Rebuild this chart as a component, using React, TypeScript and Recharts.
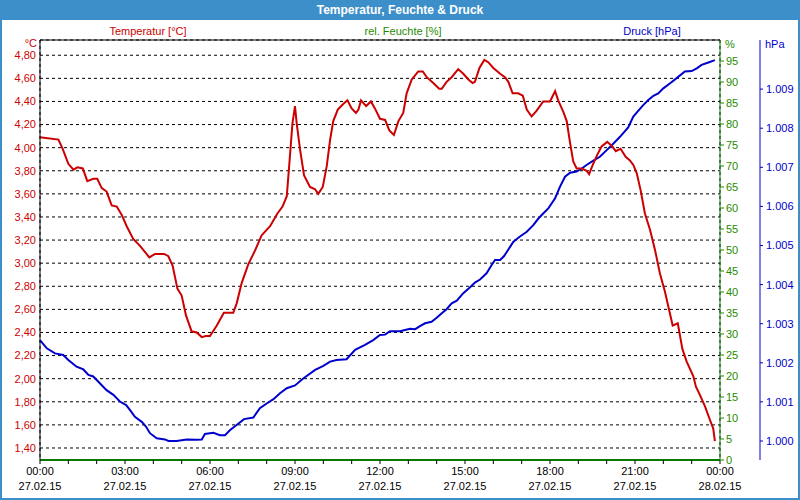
import React from 'react';
import { LineChart, Line, XAxis, YAxis, CartesianGrid, ReferenceLine } from 'recharts';

// Temperature (hours since 27.02.15 00:00, °C)
const tempHours = [
  0, 0.65, 0.8, 1.0, 1.18, 1.32, 1.51, 1.67, 1.88, 2.02, 2.18, 2.35, 2.53, 2.71, 2.88,
  3.06, 3.29, 3.53, 3.86, 4.06, 4.38, 4.53, 4.68, 4.85, 5.0, 5.15, 5.35, 5.53, 5.71, 5.85,
  6.0, 6.24, 6.49, 6.82, 6.94, 7.12, 7.35, 7.59, 7.82, 8.12, 8.38, 8.56, 8.71, 8.8, 8.91,
  9.0, 9.06, 9.18, 9.32, 9.53, 9.71, 9.82, 9.98, 10.12, 10.24, 10.35, 10.51, 10.71, 10.85,
  11.0, 11.15, 11.24, 11.33, 11.51, 11.68, 11.82, 12.0, 12.18, 12.33, 12.49, 12.65, 12.82,
  12.94, 13.12, 13.35, 13.51, 13.65, 13.88, 14.09, 14.18, 14.35, 14.53, 14.76, 14.94, 15.12,
  15.27, 15.35, 15.51, 15.68, 15.82, 16.0, 16.24, 16.41, 16.53, 16.68, 16.88, 17.04, 17.18,
  17.35, 17.53, 17.76, 18.0, 18.18, 18.29, 18.47, 18.59, 18.71, 18.82, 18.94, 19.12, 19.29,
  19.38, 19.49, 19.67, 19.82, 20.02, 20.2, 20.32, 20.49, 20.67, 20.82, 20.94, 21.06, 21.2,
  21.35, 21.53, 21.71, 21.88, 22.06, 22.18, 22.33, 22.51, 22.67, 22.82, 23.06, 23.15, 23.29,
  23.47, 23.65, 23.76, 23.82,
];
const tempValues = [
  4.09, 4.07, 3.99, 3.86, 3.81, 3.83, 3.82, 3.71, 3.73, 3.73, 3.65, 3.62, 3.5, 3.49, 3.42,
  3.32, 3.21, 3.15, 3.05, 3.08, 3.08, 3.06, 2.98, 2.78, 2.72, 2.55, 2.41, 2.4, 2.36, 2.37,
  2.37, 2.46, 2.57, 2.57, 2.65, 2.83, 2.99, 3.11, 3.24, 3.32, 3.43, 3.49, 3.58, 3.86, 4.21,
  4.36, 4.21, 3.98, 3.76, 3.66, 3.64, 3.6, 3.66, 3.84, 4.07, 4.23, 4.33, 4.38, 4.41,
  4.34, 4.3, 4.33, 4.41, 4.36, 4.4, 4.34, 4.25, 4.24, 4.15, 4.11, 4.23, 4.3,
  4.47, 4.59, 4.66, 4.66, 4.61, 4.56, 4.51, 4.51, 4.57, 4.61, 4.68, 4.64, 4.59,
  4.56, 4.57, 4.69, 4.76, 4.74, 4.69, 4.64, 4.61, 4.57, 4.47, 4.47, 4.45, 4.33,
  4.27, 4.32, 4.4, 4.4, 4.49, 4.41, 4.31, 4.23, 4.04, 3.88, 3.82, 3.82, 3.8,
  3.77, 3.84, 3.94, 4.01, 4.05, 4.01, 3.97, 3.99, 3.92, 3.89, 3.85, 3.78, 3.63,
  3.43, 3.29, 3.11, 2.91, 2.75, 2.62, 2.46, 2.48, 2.26, 2.15, 2.02, 1.93, 1.86,
  1.76, 1.64, 1.57, 1.46,
];

// Pressure (hPa)
const pressHours = [
  0, 0.24, 0.53, 0.82, 1.0, 1.29, 1.53, 1.71, 1.88, 2.12, 2.35, 2.59, 2.82, 3.04, 3.18,
  3.35, 3.59, 3.74, 3.88, 4.12, 4.41, 4.53, 4.82, 5.18, 5.53, 5.71, 5.82, 6.12, 6.35, 6.53,
  6.71, 6.94, 7.2, 7.53, 7.76, 8.0, 8.24, 8.47, 8.71, 9.0, 9.29, 9.71, 10.0, 10.24, 10.47,
  10.82, 11.12, 11.47, 11.76, 12.0, 12.18, 12.35, 12.71, 12.88, 13.06, 13.24, 13.41, 13.59,
  13.82, 14.0, 14.18, 14.35, 14.53, 14.71, 14.94, 15.18, 15.35, 15.53, 15.76, 15.94, 16.06,
  16.24, 16.38, 16.53, 16.71, 16.94, 17.18, 17.41, 17.59, 17.76, 17.94, 18.18, 18.35, 18.53,
  18.71, 18.94, 19.12, 19.29, 19.53, 19.76, 20.0, 20.24, 20.47, 20.76, 20.94, 21.12, 21.29,
  21.47, 21.65, 21.82, 22.0, 22.24, 22.47, 22.76, 23.0, 23.18, 23.35, 23.59, 23.82,
];
const pressValues = [
  1002.58, 1002.37, 1002.24, 1002.2, 1002.07, 1001.9, 1001.83, 1001.69, 1001.65, 1001.47,
  1001.3, 1001.18, 1001.01, 1000.92, 1000.79, 1000.62, 1000.49, 1000.37, 1000.2, 1000.07,
  1000.04, 1000.0, 1000.0, 1000.04, 1000.03, 1000.04, 1000.18, 1000.21, 1000.15, 1000.15,
  1000.28, 1000.41, 1000.56, 1000.6, 1000.84, 1000.96, 1001.07, 1001.22, 1001.35, 1001.42,
  1001.6, 1001.82, 1001.92, 1002.03, 1002.07, 1002.09, 1002.33, 1002.46, 1002.58, 1002.71,
  1002.72, 1002.81, 1002.81, 1002.84, 1002.87, 1002.86, 1002.94, 1003.01, 1003.05, 1003.15,
  1003.27, 1003.37, 1003.52, 1003.59, 1003.78, 1003.93, 1004.05, 1004.13, 1004.29, 1004.5,
  1004.63, 1004.63, 1004.73, 1004.9, 1005.1, 1005.23, 1005.35, 1005.52, 1005.69, 1005.82,
  1005.95, 1006.21, 1006.5, 1006.76, 1006.86, 1006.89, 1006.97, 1007.06, 1007.17, 1007.27,
  1007.44, 1007.61, 1007.78, 1008.02, 1008.3, 1008.45, 1008.59, 1008.72, 1008.83, 1008.89,
  1009.02, 1009.15, 1009.28, 1009.45, 1009.46, 1009.53, 1009.62, 1009.68, 1009.74,
];

// axis ticks
const hourTicks = [0, 1, 2, 3, 4, 5, 6, 7, 8, 9, 10, 11, 12, 13, 14, 15, 16, 17, 18, 19, 20, 21, 22, 23, 24];
const majorTicks = [0, 3, 6, 9, 12, 15, 18, 21, 24];
const gridTicks = [3, 6, 9, 12, 15, 18, 21];
const timeLabels = ['00:00', '03:00', '06:00', '09:00', '12:00', '15:00', '18:00', '21:00', '00:00'];
const dateLabels = ['27.02.15', '27.02.15', '27.02.15', '27.02.15', '27.02.15', '27.02.15', '27.02.15', '27.02.15', '28.02.15'];
const tempTicks = [1.4, 1.6, 1.8, 2.0, 2.2, 2.4, 2.6, 2.8, 3.0, 3.2, 3.4, 3.6, 3.8, 4.0, 4.2, 4.4, 4.6, 4.8];
const humTicks = [0, 5, 10, 15, 20, 25, 30, 35, 40, 45, 50, 55, 60, 65, 70, 75, 80, 85, 90, 95];
const pressTicks = [1000, 1001, 1002, 1003, 1004, 1005, 1006, 1007, 1008, 1009];

const TEMP_MIN = 1.296;
const TEMP_MAX = 4.932;

const RED = '#cc0000';
const GREEN = '#1f8a00';
const BLUE = '#0000cc';
const FRAME = '#3d8fca';
const FONT = '"Liberation Sans", Arial, sans-serif';

const tempData = tempHours.map((t, i) => ({ t, temp: tempValues[i] }));
const pressData = pressHours.map((t, i) => ({ t, press: pressValues[i] }));

const TimeTick = (props: any) => {
  const { x, y, payload } = props;
  const idx = majorTicks.indexOf(payload.value);
  if (idx < 0) return <g />;
  return (
    <g>
      <text x={x} y={y} dy={11} textAnchor="middle" fontSize={11} fill="#000" fontFamily={FONT}>
        {timeLabels[idx]}
      </text>
      <text x={x} y={y} dy={26} textAnchor="middle" fontSize={11} fill="#000" fontFamily={FONT}>
        {dateLabels[idx]}
      </text>
    </g>
  );
};

const label = (text: string, color: string, left: number, top: number, extra: any = {}) => (
  <div
    style={{
      position: 'absolute', left, top, color, fontSize: 11, fontFamily: FONT,
      lineHeight: '12px', whiteSpace: 'nowrap', ...extra,
    }}
  >
    {text}
  </div>
);

export default function App() {
  return (
    <div style={{ position: 'fixed', left: 0, top: 0, width: 800, height: 500, background: FRAME, fontFamily: FONT }}>
      <div style={{ position: 'absolute', left: 2, top: 20, width: 796, height: 478, background: '#fff' }} />
      <div
        style={{
          position: 'absolute', left: 0, top: 0, width: 800, height: 20, lineHeight: '20px',
          textAlign: 'center', color: '#fff', fontWeight: 'bold', fontSize: 12,
        }}
      >
        Temperatur, Feuchte &amp; Druck
      </div>
      {label('Temperatur [°C]', RED, 148, 25, { transform: 'translateX(-50%)' })}
      {label('rel. Feuchte [%]', GREEN, 403, 25, { transform: 'translateX(-50%)' })}
      {label('Druck [hPa]', BLUE, 652, 25, { transform: 'translateX(-50%)' })}
      {label('°C', RED, 0, 37, { width: 37, textAlign: 'right' })}
      {label('%', GREEN, 725, 38)}
      {label('hPa', BLUE, 765, 38)}
      <div style={{ position: 'absolute', left: 0, top: 0 }}>
        <LineChart width={800} height={500} margin={{ top: 40, right: 0, bottom: 0, left: 0 }}>
          <CartesianGrid
            xAxisId="top"
            yAxisId="temp"
            stroke="#000"
            strokeDasharray="3 3"
            fill="none"
          />
          <XAxis
            xAxisId="top"
            orientation="top"
            type="number"
            dataKey="t"
            domain={[0, 24]}
            ticks={gridTicks}
            interval={0}
            height={0}
            tick={false}
            tickLine={false}
            axisLine={false}
          />
          <XAxis
            type="number"
            dataKey="t"
            domain={[0, 24]}
            ticks={hourTicks}
            interval={0}
            height={40}
            tickSize={4}
            tickMargin={0}
            tickLine={{ stroke: '#000' }}
            axisLine={{ stroke: '#0a7a00', strokeWidth: 2 }}
            tick={<TimeTick />}
          />
          <YAxis
            yAxisId="temp"
            orientation="left"
            type="number"
            width={40}
            domain={[TEMP_MIN, TEMP_MAX]}
            allowDataOverflow
            ticks={tempTicks}
            interval={0}
            tickSize={0}
            tickMargin={4}
            tickLine={false}
            axisLine={{ stroke: '#000' }}
            tick={{ fill: RED, fontSize: 11, fontFamily: FONT }}
            tickFormatter={(v: number) => v.toFixed(2).replace('.', ',')}
          />
          <YAxis
            yAxisId="hum"
            orientation="right"
            type="number"
            width={40}
            domain={[0, 100]}
            allowDataOverflow
            ticks={humTicks}
            interval={0}
            tickSize={4}
            tickMargin={2}
            tickLine={{ stroke: GREEN }}
            axisLine={{ stroke: '#0a7a00' }}
            tick={{ fill: GREEN, fontSize: 11, fontFamily: FONT, textAnchor: 'start' }}
          />
          <YAxis
            yAxisId="press"
            orientation="right"
            type="number"
            width={40}
            domain={[999.514, 1010.256]}
            allowDataOverflow
            ticks={pressTicks}
            interval={0}
            tickSize={3}
            tickMargin={3}
            tickLine={{ stroke: BLUE }}
            axisLine={{ stroke: BLUE }}
            tick={{ fill: BLUE, fontSize: 11, fontFamily: FONT, textAnchor: 'start' }}
            tickFormatter={(v: number) => (v / 1000).toFixed(3)}
          />
          <ReferenceLine yAxisId="temp" y={TEMP_MAX} stroke="#000" strokeWidth={1} ifOverflow="visible" />
          <Line
            data={pressData}
            yAxisId="press"
            dataKey="press"
            type="linear"
            stroke={BLUE}
            strokeWidth={2}
            dot={false}
            isAnimationActive={false}
          />
          <Line
            data={tempData}
            yAxisId="temp"
            dataKey="temp"
            type="linear"
            stroke={RED}
            strokeWidth={2}
            dot={false}
            isAnimationActive={false}
          />
        </LineChart>
      </div>
    </div>
  );
}
